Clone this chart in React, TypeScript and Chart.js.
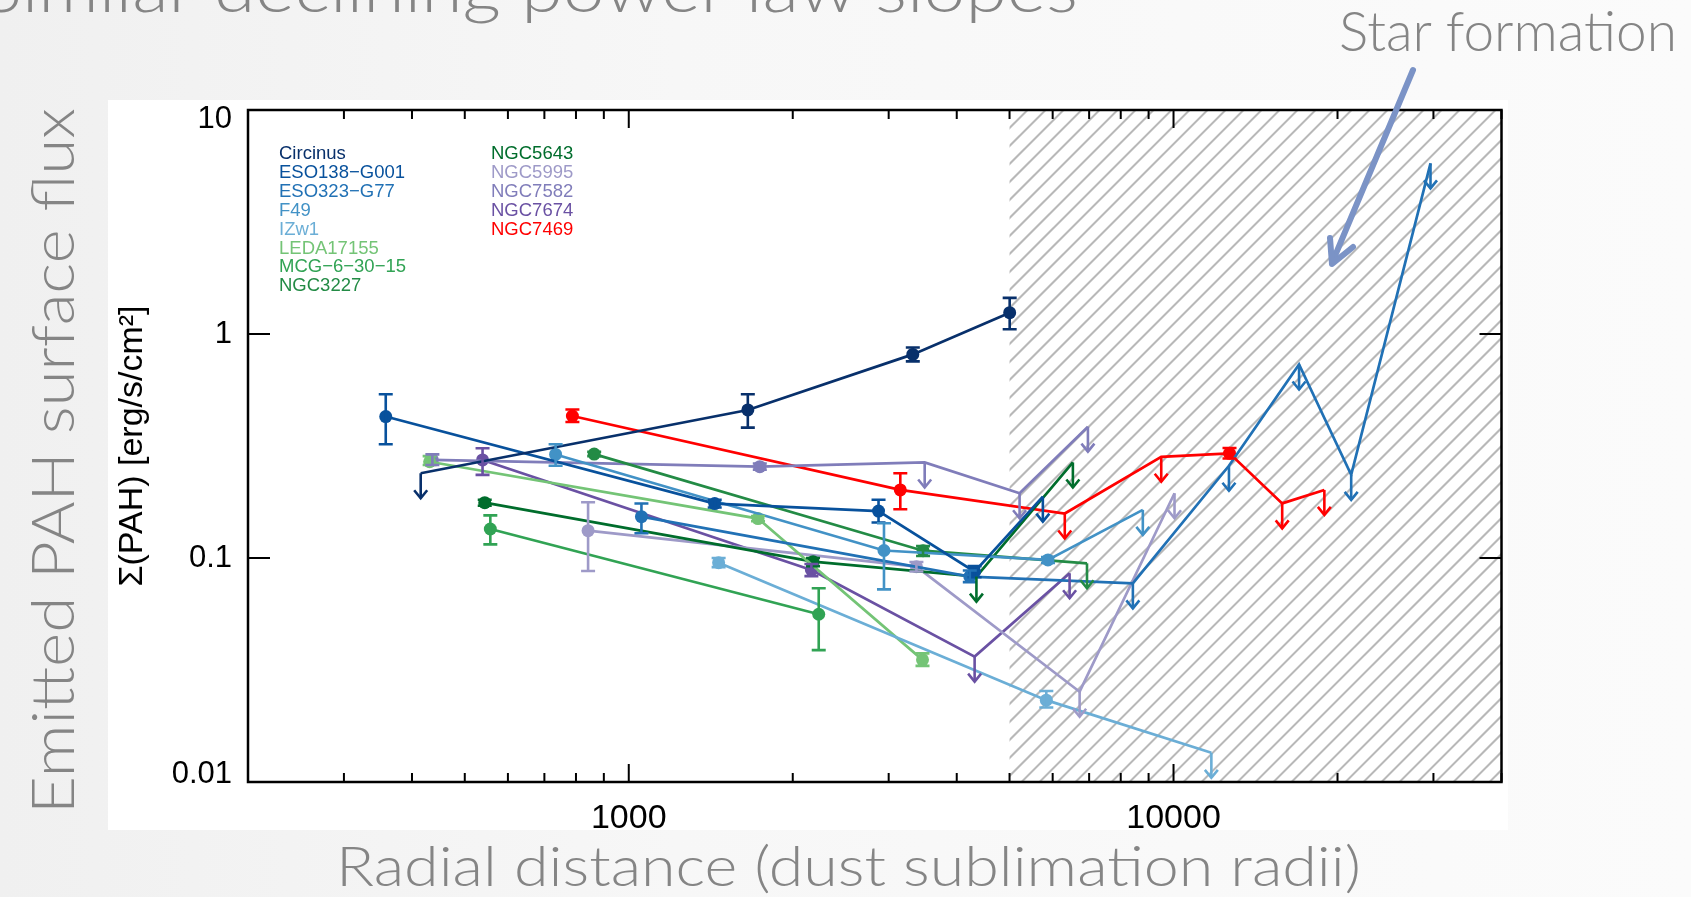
import React, { useEffect, useRef } from 'react';
import { Chart, registerables } from 'chart.js';

Chart.register(...registerables);

// [radius (sublimation radii), Sigma(PAH), errLow, errHigh]; null errors = upper limit
type Pt = [number, number, number | null, number | null];

const galaxyNames = [
  'Circinus', 'ESO138\u2212G001', 'ESO323\u2212G77', 'F49', 'IZw1', 'LEDA17155',
  'MCG\u22126\u221230\u221215', 'NGC3227', 'NGC5643', 'NGC5995', 'NGC7582', 'NGC7674', 'NGC7469',
];
const galaxyColors = [
  '#08306b', '#08519c', '#2171b5', '#4292c6', '#6baed6', '#74c476',
  '#31a354', '#238b45', '#006d2c', '#9e9ac8', '#807dba', '#6a51a3', '#ff0000',
];

const circinus: Pt[] = [[415, 0.239, null, null], [1654, 0.458, 0.382, 0.538], [3322, 0.811, 0.755, 0.87], [5003, 1.245, 1.05, 1.45]];
const eso138: Pt[] = [[358, 0.428, 0.322, 0.538], [1438, 0.175, 0.168, 0.182], [2874, 0.162, 0.144, 0.182], [4314, 0.0869, 0.082, 0.092], [5756, 0.188, null, null]];
const eso323: Pt[] = [[1055, 0.153, 0.129, 0.175], [4227, 0.0826, 0.078, 0.088], [8421, 0.077, null, null], [12640, 0.258, null, null], [17000, 0.731, null, null], [21190, 0.235, null, null], [29630, 5.78, null, null]];
const f49: Pt[] = [[734, 0.29, 0.258, 0.322], [2941, 0.108, 0.0724, 0.143], [5882, 0.098, 0.095, 0.101], [8783, 0.164, null, null]];
const izw1: Pt[] = [[1462, 0.0953, 0.091, 0.1], [5841, 0.0232, 0.0215, 0.0255], [11734, 0.0135, null, null]];
const leda17155: Pt[] = [[431, 0.269, 0.26, 0.285], [1727, 0.15, 0.146, 0.154], [3461, 0.0351, 0.033, 0.0375]];
const mcg63015: Pt[] = [[557, 0.1347, 0.115, 0.155], [2232, 0.0561, 0.0388, 0.0733]];
const ngc3227: Pt[] = [[864, 0.291, 0.285, 0.298], [3469, 0.1078, 0.102, 0.113], [6937, 0.0947, null, null]];
const ngc5643: Pt[] = [[544, 0.1766, 0.171, 0.182], [2179, 0.0963, 0.092, 0.1], [4347, 0.0826, null, null], [6535, 0.267, null, null]];
const ngc5995: Pt[] = [[842, 0.1324, 0.0875, 0.1775], [3373, 0.0915, 0.087, 0.096], [6724, 0.0253, null, null], [10042, 0.1945, null, null]];
const ngc7582: Pt[] = [[436, 0.274, 0.26, 0.29], [1740, 0.2557, 0.248, 0.264], [3493, 0.267, null, null], [5217, 0.1945, null, null], [6964, 0.3857, null, null]];
const ngc7674: Pt[] = [[539, 0.274, 0.235, 0.309], [2164, 0.0884, 0.083, 0.094], [4314, 0.0363, null, null], [6445, 0.0855, null, null]];
const ngc7469: Pt[] = [[788, 0.4305, 0.405, 0.46], [3151, 0.2013, 0.165, 0.239], [6315, 0.158, null, null], [9494, 0.283, null, null], [12670, 0.2934, 0.278, 0.31], [15830, 0.1753, null, null], [18918, 0.2013, null, null]];

const galaxySeries: Pt[][] = [circinus, eso138, eso323, f49, izw1, leda17155, mcg63015, ngc3227, ngc5643, ngc5995, ngc7582, ngc7674, ngc7469];

const xTickValues = [200, 300, 400, 500, 600, 700, 800, 900, 1000, 2000, 3000, 4000, 5000, 6000, 7000, 8000, 9000, 10000, 20000, 30000, 40000];
const xLabelValues = [1000, 10000];
const yTickValues = [0.01, 0.1, 1, 10];
const yTickLabels = ['0.01', '0.1', '1', '10'];
const starFormationStart = 5000;

const AXIS_FONT = '"Liberation Sans", Arial, Helvetica, sans-serif';

const decorPlugin = {
  id: 'decor',
  beforeDatasetsDraw(chart: any) {
    const { ctx, chartArea: a, scales } = chart;
    const x0 = scales.x.getPixelForValue(starFormationStart);
    ctx.save();
    ctx.beginPath();
    ctx.rect(x0, a.top, a.right - x0, a.bottom - a.top);
    ctx.clip();
    ctx.strokeStyle = '#b8b8b8';
    ctx.lineWidth = 2;
    const h = a.bottom - a.top;
    for (let x = x0 - h; x < a.right + 20; x += 18) {
      ctx.beginPath();
      ctx.moveTo(x, a.bottom);
      ctx.lineTo(x + h, a.top);
      ctx.stroke();
    }
    ctx.restore();
  },
  afterDatasetsDraw(chart: any) {
    const { ctx, chartArea: a, scales } = chart;
    const xs = scales.x;
    const ys = scales.y;
    ctx.save();
    // error bars and upper-limit arrows
    chart.data.datasets.forEach((ds: any) => {
      ctx.strokeStyle = ds.borderColor;
      ctx.lineWidth = 2.6;
      ctx.lineCap = 'butt';
      ds.pts.forEach((p: Pt) => {
        const px = xs.getPixelForValue(p[0]);
        const py = ys.getPixelForValue(p[1]);
        if (p[2] === null) {
          const len = 25;
          ctx.beginPath();
          ctx.moveTo(px, py);
          ctx.lineTo(px, py + len);
          ctx.stroke();
          ctx.beginPath();
          ctx.moveTo(px - 6.5, py + len - 8);
          ctx.lineTo(px, py + len);
          ctx.lineTo(px + 6.5, py + len - 8);
          ctx.stroke();
        } else {
          const lo = ys.getPixelForValue(p[2]);
          const hi = ys.getPixelForValue(p[3] as number);
          ctx.beginPath();
          ctx.moveTo(px, lo);
          ctx.lineTo(px, hi);
          ctx.moveTo(px - 7, lo);
          ctx.lineTo(px + 7, lo);
          ctx.moveTo(px - 7, hi);
          ctx.lineTo(px + 7, hi);
          ctx.stroke();
        }
      });
    });
    // frame
    ctx.strokeStyle = '#000';
    ctx.lineWidth = 2.5;
    ctx.strokeRect(a.left, a.top, a.right - a.left, a.bottom - a.top);
    // x ticks (bottom & top, inward)
    ctx.lineWidth = 2;
    xTickValues.forEach((v) => {
      const px = xs.getPixelForValue(v);
      const len = xLabelValues.includes(v) ? 18 : 9;
      ctx.beginPath();
      ctx.moveTo(px, a.bottom);
      ctx.lineTo(px, a.bottom - len);
      ctx.moveTo(px, a.top);
      ctx.lineTo(px, a.top + len);
      ctx.stroke();
    });
    // y ticks (left & right, inward) and labels
    ctx.font = '31px ' + AXIS_FONT;
    ctx.fillStyle = '#000';
    ctx.textAlign = 'right';
    ctx.textBaseline = 'middle';
    yTickValues.forEach((v, i) => {
      const py = ys.getPixelForValue(v);
      ctx.beginPath();
      ctx.moveTo(a.left, py);
      ctx.lineTo(a.left + 22, py);
      ctx.moveTo(a.right, py);
      ctx.lineTo(a.right - 22, py);
      ctx.stroke();
      const off = i === 0 ? -8 : i === yTickValues.length - 1 ? 9 : 0;
      ctx.fillText(yTickLabels[i], a.left - 16, py + off);
    });
    // legend
    ctx.font = '18.5px ' + AXIS_FONT;
    ctx.textBaseline = 'middle';
    ctx.textAlign = 'left';
    chart.data.datasets.forEach((ds: any, i: number) => {
      const col = i < 8 ? 0 : 1;
      const row = i < 8 ? i : i - 8;
      ctx.fillStyle = ds.borderColor;
      ctx.fillText(ds.label, a.left + 31 + col * 212, a.top + 44 + row * 18.9);
    });
    ctx.restore();
  },
};

function PahChart() {
  const ref = useRef<HTMLCanvasElement | null>(null);
  useEffect(() => {
    if (!ref.current) return;
    const datasets = galaxySeries.map((pts, i) => ({
      label: galaxyNames[i],
      data: pts.map((p) => ({ x: p[0], y: p[1] })),
      pts,
      showLine: true,
      borderColor: galaxyColors[i],
      backgroundColor: galaxyColors[i],
      borderWidth: 2.7,
      pointRadius: pts.map((p) => (p[2] === null ? 0 : 6.5)),
      pointBorderWidth: 0,
      pointBackgroundColor: galaxyColors[i],
      pointHoverRadius: 0,
      tension: 0,
      fill: false,
      clip: false,
    }));
    const chart = new Chart(ref.current, {
      type: 'scatter',
      data: { datasets: datasets as any },
      options: {
        animation: false,
        responsive: false,
        devicePixelRatio: 1,
        layout: { padding: { top: 10, right: 6, left: 0, bottom: 0 } },
        plugins: { legend: { display: false }, tooltip: { enabled: false } },
        scales: {
          x: {
            type: 'logarithmic',
            min: 200,
            max: 40000,
            position: 'bottom',
            afterBuildTicks: (s: any) => {
              s.ticks = xTickValues.map((v) => ({ value: v }));
            },
            afterFit: (s: any) => {
              s.height = 78;
              s.paddingLeft = 0;
              s.paddingRight = 0;
            },
            grid: { display: false, drawTicks: false },
            border: { display: false },
            ticks: {
              autoSkip: false,
              maxRotation: 0,
              minRotation: 0,
              padding: 16,
              color: '#000',
              font: { family: AXIS_FONT, size: 34 },
              callback: (_v: any, idx: number, ticks: any[]) => {
                const v = ticks[idx].value;
                return xLabelValues.includes(v) ? String(v) : '';
              },
            },
          },
          y: {
            type: 'logarithmic',
            min: 0.01,
            max: 10,
            afterBuildTicks: (s: any) => {
              s.ticks = yTickValues.map((v) => ({ value: v }));
            },
            afterFit: (s: any) => {
              s.width = 140;
              s.paddingTop = 0;
              s.paddingBottom = 0;
            },
            grid: { display: false, drawTicks: false },
            border: { display: false },
            ticks: { display: false },
            title: {
              display: true,
              text: '\u03a3(PAH) [erg/s/cm\u00b2]',
              color: '#000',
              font: { family: AXIS_FONT, size: 34 },
              padding: { top: 4, bottom: 0 },
            },
          },
        },
      },
      plugins: [decorPlugin],
    } as any);
    return () => chart.destroy();
  }, []);
  return (
    <canvas
      ref={ref}
      width={1400}
      height={760}
      style={{ position: 'absolute', left: 108, top: 100, width: 1400, height: 760 }}
    />
  );
}

export default function App() {
  const slideFont = '"Lato", "Open Sans", "DejaVu Sans", sans-serif';
  return (
    <div
      style={{
        position: 'fixed',
        left: 0,
        top: 0,
        width: 1691,
        height: 897,
        overflow: 'hidden',
        background: 'linear-gradient(90deg, #f0f0f0 0%, #f7f7f7 40%, #fbfbfb 100%)',
      }}
    >
      <div style={{ position: 'absolute', left: 108, top: 100, width: 1400, height: 730, background: '#ffffff' }} />
      <PahChart />
      <svg
        width={1691}
        height={897}
        style={{ position: 'absolute', left: 0, top: 0, pointerEvents: 'none' }}
      >
        <g fill="#858585" fontFamily={slideFont} fontWeight={300}>
          <text x={-18} y={12} fontSize={66} textLength={1096} lengthAdjust="spacingAndGlyphs">
            Similar declining power law slopes
          </text>
          <text x={1339} y={51} fontSize={56} textLength={338} lengthAdjust="spacingAndGlyphs">
            Star formation
          </text>
          <text x={336} y={886} fontSize={56} textLength={1025} lengthAdjust="spacingAndGlyphs">
            Radial distance (dust sublimation radii)
          </text>
          <text
            transform="translate(74, 814) rotate(-90)"
            x={0}
            y={0}
            fontSize={60}
            textLength={706}
            lengthAdjust="spacingAndGlyphs"
          >
            Emitted PAH surface flux
          </text>
        </g>
        <g stroke="#7b93c6" strokeWidth={6} strokeLinecap="round" strokeLinejoin="round" fill="none">
          <line x1={1413} y1={70} x2={1332} y2={263} />
          <polyline points="1330,238 1332,264 1353,247" />
        </g>
      </svg>
    </div>
  );
}
